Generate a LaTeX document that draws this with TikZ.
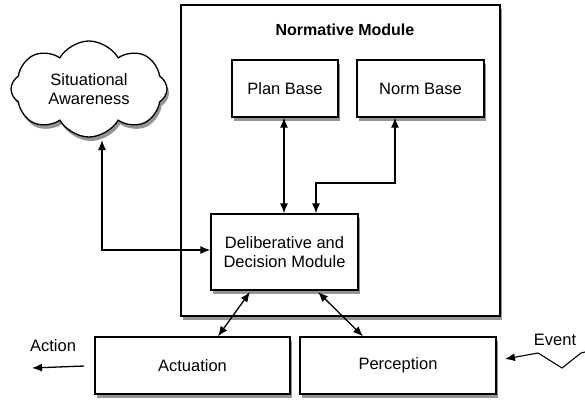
\documentclass[tikz,border=0pt]{standalone}
\usepackage{fontspec}
\setmainfont{Liberation Sans}
\usetikzlibrary{shapes.symbols,shadows,arrows.meta}
\begin{document}
\begin{tikzpicture}[x=1pt,y=-1pt,
  font=\fontsize{16.5}{19}\selectfont,
  shade/.style={drop shadow={shadow xshift=2pt,shadow yshift=-4pt,opacity=0.6,fill=black!70}},
  block/.style={draw,line width=1.3pt,fill=white,shade,align=center,inner sep=0pt},
  conn/.style={line width=1.3pt,{Latex[length=10pt,width=8pt]}-{Latex[length=10pt,width=8pt]}},
  oneway/.style={line width=1.3pt,-{Latex[length=10pt,width=8pt]}}]
\useasboundingbox (0,0) rectangle (585,399);
% outer module
\node[block,minimum width=319pt,minimum height=311pt] (norm) at (340.5,160.5) {};
\node[font=\fontsize{16}{19}\selectfont\bfseries] (title) at (345,30) {Normative Module};
% inner blocks
\node[block,minimum width=106pt,minimum height=57pt] (plan) at (285,88.5) {Plan Base};
\node[block,minimum width=127pt,minimum height=57pt] (normb) at (420.5,88.5) {Norm Base};
\node[block,minimum width=147pt,minimum height=76pt] (delib) at (284.5,252) {Deliberative and\\Decision Module};
\node[block,minimum width=195pt,minimum height=57pt] (act) at (192.5,365.5) {Actuation};
\node[block,minimum width=196pt,minimum height=57pt] (perc) at (398,365.5) {Perception};
% cloud
\node[cloud,cloud puffs=8,cloud puff arc=120,aspect=1.6,draw,line width=1.3pt,fill=white,shade,
  minimum width=156pt,minimum height=96pt,align=center,inner sep=0pt] (sa) at (89,89) {Situational\\Awareness};
% connectors
\coordinate (c1) at (102,140);
\draw[conn] (c1) |- (delib.west |- 0,250);
\draw[conn] (plan.south -| 284,0) -- (delib.north -| 284,0);
\draw[conn] (normb.south -| 395,0) |- (316,183) -- (delib.north -| 316,0);
\draw[conn] (250,292) -- (act.north -| 218,0);
\draw[conn] (318,292) -- (perc.north -| 363,0);
% action and event
\coordinate (actend) at (32,368);
\draw[oneway] (84,366) -- (actend);
\node (actlbl) at (53,346) {Action};
\coordinate (evstart) at (585,352);
\draw[line width=1.1pt,-{Latex[length=10pt,width=8pt]}] (evstart) -- (581,353) -- (562,368) -- (538,353) -- (505,359);
\node (evlbl) at (555,340) {Event};
\end{tikzpicture}
\end{document}
